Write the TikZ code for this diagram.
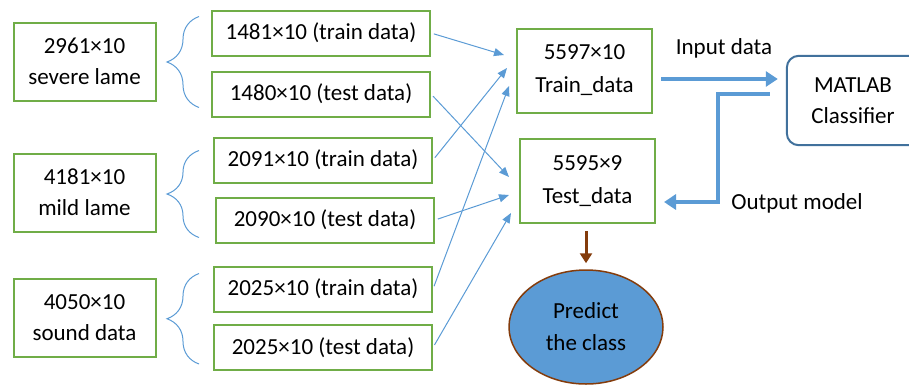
\documentclass[tikz,border=0pt]{standalone}
\usepackage{fontspec}
\setmainfont{Carlito}
\usetikzlibrary{shapes.geometric,arrows.meta,positioning,calc,decorations.pathreplacing}
\definecolor{boxgreen}{RGB}{112,173,71}
\definecolor{flowblue}{RGB}{91,155,213}
\definecolor{clfblue}{RGB}{65,113,156}
\definecolor{predbrown}{RGB}{132,60,12}

\begin{document}
\begin{tikzpicture}[x=1pt,y=-1pt,
  group/.style={draw=boxgreen,line width=2pt,minimum width=142pt,minimum height=78pt,
                inner sep=0pt,align=center,font=\fontsize{23}{31}\selectfont},
  split/.style={draw=boxgreen,line width=2pt,minimum width=218pt,minimum height=45pt,
                inner sep=0pt,font=\fontsize{23}{26}\selectfont},
  merged/.style={group,minimum width=135pt,minimum height=84pt,font=\fontsize{23}{33}\selectfont},
  clf/.style={minimum width=132pt,minimum height=89pt,inner sep=0pt,align=center,
              font=\fontsize{23}{31}\selectfont},
  clfframe/.style={draw=clfblue,line width=2pt,rounded corners=12pt},
  pred/.style={ellipse,draw=predbrown,fill=flowblue,line width=1.5pt,minimum width=154pt,
               minimum height=114pt,inner sep=0pt,align=center,font=\fontsize{23}{32}\selectfont},
  lbl/.style={font=\fontsize{23}{26}\selectfont},
  arr/.style={-{Triangle[length=10pt,width=8pt]},flowblue,line width=1pt,shorten <=3pt},
  fat/.style={-{Triangle[length=12pt,width=15pt]},flowblue,line width=4pt},
  brc/.style={decorate,decoration={brace,amplitude=32pt},flowblue,line width=1pt}]
  \useasboundingbox (0,0) rectangle (909,386);
  \clip (0,0) rectangle (909,386);
  % raw data sets
  \node[group] (severe) at (84.5,61.5) {2961×10\\severe lame};
  \node[group] (mild)   at (84.5,192.5) {4181×10\\mild lame};
  \node[group] (sound)  at (84.5,318) {4050×10\\sound data};
  % train / test splits
  \node[split] (sevtr) at (321,33)    {1481×10 (train data)};
  \node[split] (sevte) at (321,94)    {1480×10 (test data)};
  \node[split] (miltr) at (323,160)   {2091×10 (train data)};
  \node[split] (milte) at (325,220)   {2090×10 (test data)};
  \node[split] (sndtr) at (323,289)   {2025×10 (train data)};
  \node[split] (sndte) at (323,347.5) {2025×10 (test data)};
  % merged sets
  \node[merged] (train) at (584.5,70.5) {5597×10\\Train\_data};
  \node[merged] (test)  at (587.5,181)  {5595×9\\Test\_data};
  \node[clf] (matlab) at (853,100.5) {MATLAB\\Classifier};
  \draw[clfframe] ($(matlab.north west)+(160,0)$) -- (matlab.north west)
    -- (matlab.south west) -- ($(matlab.south west)+(160,0)$);
  \node[pred] (predict) at (586,327) {Predict\\the class};
  % braces
  \draw[brc] ($(sevte.south west)+(-12,-10)$) -- ($(sevtr.north west)+(-12,7)$);
  \draw[brc] ($(milte.south west)+(-16,-6)$) -- ($(miltr.north west)+(-14,14)$);
  \draw[brc] ($(sndte.south west)+(-14,-7)$) -- ($(sndtr.north west)+(-14,8)$);
  % splits into merged sets
  \draw[arr] (sevtr.east) -- ([xshift=-12pt,yshift=15.5pt]train.west);
  \draw[arr] (miltr.east) -- ([xshift=-9pt,yshift=2.5pt]train.west);
  \draw[arr] (sndtr.east) -- ([xshift=-7pt,yshift=-15.5pt]train.west);
  \draw[arr] (sevte.east) -- ([xshift=-10pt,yshift=4pt]test.west);
  \draw[arr] (milte.east) -- ([xshift=-10pt,yshift=-14pt]test.west);
  \draw[arr] (sndte.east) -- ([xshift=-8pt,yshift=-32pt]test.west);
  % classifier loop
  \coordinate (inA) at ($(train.east)+(8,8.5)$);
  \coordinate (inB) at ($(matlab.west)+(-9,0)$);
  \draw[fat] (inA) -- (inA -| inB);
  \node[lbl] (inlbl) at (724,48) {Input data};
  \coordinate (outA) at ($(matlab.west)+(-17,-6.5)$);
  \coordinate (outB) at ($(test.east)+(8,21)$);
  \draw[fat] (outA) -| ($(outB)+(54,0)$) -- (outB);
  \node[lbl] (outlbl) at (797,203) {Output model};
  \draw[-{Triangle[length=10pt,width=12pt]},predbrown,line width=3pt,shorten <=7pt,shorten >=6pt]
    (predict.north |- test.south) -- (predict.north);
\end{tikzpicture}
\end{document}
